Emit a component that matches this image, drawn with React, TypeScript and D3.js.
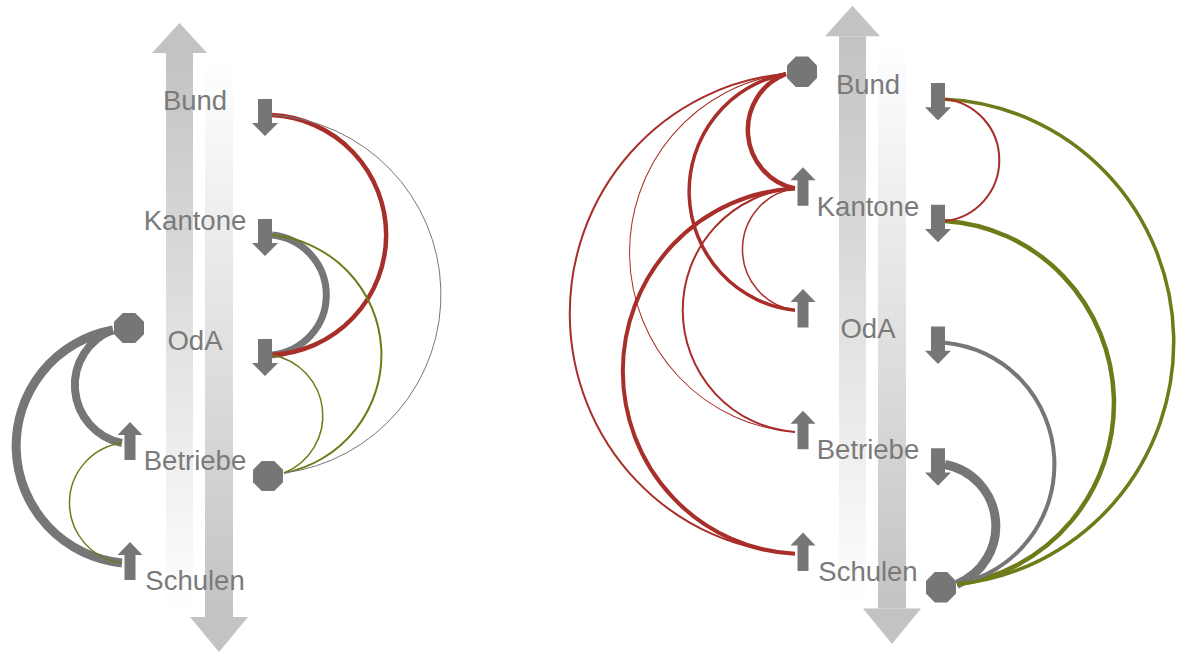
import React from 'react';
import * as d3 from 'd3';

// ---- data ----
const actors = ['Bund', 'Kantone', 'OdA', 'Betriebe', 'Schulen'];
const kinds = ['rot', 'oliv', 'grau'];
const kindColors = ['#a82e2a', '#6f7a18', '#767676'];

const panelAHubs = { left: 'OdA', right: 'Betriebe' };
const panelALinks = [
  { side: 'right', source: 'Bund', target: 'OdA', kind: 'rot', value: 4.5 },
  { side: 'right', source: 'Bund', target: 'Betriebe', kind: 'grau', value: 1 },
  { side: 'right', source: 'Kantone', target: 'OdA', kind: 'grau', value: 7 },
  { side: 'right', source: 'Kantone', target: 'Betriebe', kind: 'oliv', value: 2 },
  { side: 'right', source: 'OdA', target: 'Betriebe', kind: 'oliv', value: 1.5 },
  { side: 'left', source: 'OdA', target: 'Betriebe', kind: 'grau', value: 8 },
  { side: 'left', source: 'OdA', target: 'Schulen', kind: 'grau', value: 9 },
  { side: 'left', source: 'Betriebe', target: 'Schulen', kind: 'oliv', value: 1.5 },
];

const panelBHubs = { left: 'Bund', right: 'Schulen' };
const panelBLinks = [
  { side: 'right', source: 'Bund', target: 'Kantone', kind: 'rot', value: 2 },
  { side: 'right', source: 'Bund', target: 'Schulen', kind: 'oliv', value: 3.5 },
  { side: 'right', source: 'Kantone', target: 'Schulen', kind: 'oliv', value: 4.5 },
  { side: 'right', source: 'OdA', target: 'Schulen', kind: 'grau', value: 4 },
  { side: 'right', source: 'Betriebe', target: 'Schulen', kind: 'grau', value: 9 },
  { side: 'left', source: 'Bund', target: 'Kantone', kind: 'rot', value: 4.5 },
  { side: 'left', source: 'Bund', target: 'OdA', kind: 'rot', value: 3.5 },
  { side: 'left', source: 'Bund', target: 'Betriebe', kind: 'rot', value: 1 },
  { side: 'left', source: 'Bund', target: 'Schulen', kind: 'rot', value: 2 },
  { side: 'left', source: 'Kantone', target: 'OdA', kind: 'rot', value: 1.5 },
  { side: 'left', source: 'Kantone', target: 'Betriebe', kind: 'rot', value: 2 },
  { side: 'left', source: 'Kantone', target: 'Schulen', kind: 'rot', value: 4 },
];

// ---- scales / layout ----
const yScale = d3.scalePoint<string>().domain(actors).range([110, 590]);
const widthScale = d3.scaleLinear().domain([0, 10]).range([0, 10]);
const colorScale = d3.scaleOrdinal<string, string>().domain(kinds).range(kindColors);

const LABEL_X = 195;
const LEFT_X = 128;
const RIGHT_X = 265;
const MARK_GREY = '#767676';
const BIG_GREY = '#c3c3c3';

function octagon(cx: number, cy: number, a: number) {
  const R = a / Math.cos(Math.PI / 8);
  const pts: string[] = [];
  for (let k = 0; k < 8; k++) {
    const ang = Math.PI / 8 + (k * Math.PI) / 4;
    pts.push(`${cx + R * Math.cos(ang)},${cy + R * Math.sin(ang)}`);
  }
  return pts.join(' ');
}

function downArrow(cx: number, b: number) {
  const top = b - 11, hb = b + 13, tip = b + 26, sw = 7, hw = 13;
  return `${cx - sw},${top} ${cx + sw},${top} ${cx + sw},${hb} ${cx + hw},${hb} ${cx},${tip} ${cx - hw},${hb} ${cx - sw},${hb}`;
}

function upArrow(cx: number, b: number) {
  const tip = b - 48, hb = b - 35, bot = b - 10, sw = 5.5, hw = 12.5;
  return `${cx},${tip} ${cx + hw},${hb} ${cx + sw},${hb} ${cx + sw},${bot} ${cx - sw},${bot} ${cx - sw},${hb} ${cx - hw},${hb}`;
}

function endpoint(side: string, actor: string, hub: string) {
  const b = yScale(actor)!;
  if (side === 'right') {
    return actor === hub ? { x: RIGHT_X + 19, y: b + 3 } : { x: RIGHT_X + 7, y: b + 5 };
  }
  return actor === hub ? { x: LEFT_X - 15, y: b - 20 } : { x: LEFT_X - 6, y: b - 27 };
}

function arcPath(side: string, p1: { x: number; y: number }, p2: { x: number; y: number }) {
  const cx = side === 'right' ? RIGHT_X + 1 : LEFT_X + 2;
  const cy = (p1.y + p2.y) / 2;
  const r = Math.max(Math.hypot(p1.x - cx, p1.y - cy), Math.hypot(p2.x - cx, p2.y - cy));
  const sweep = side === 'right' ? 1 : 0;
  return `M${p1.x},${p1.y} A${r},${r} 0 0 ${sweep} ${p2.x},${p2.y}`;
}

type Link = { side: string; source: string; target: string; kind: string; value: number };

function Panel({ links, hubs, transform, id }: { links: Link[]; hubs: { left: string; right: string }; transform: string; id: string }) {
  const sides = ['left', 'right'];
  const markers: { side: string; actor: string }[] = [];
  sides.forEach((s) => {
    actors.forEach((a) => {
      if (links.some((l) => l.side === s && (l.source === a || l.target === a))) markers.push({ side: s, actor: a });
    });
  });
  const sorted = [...links].sort((a, b) => b.value - a.value);
  return (
    <g transform={transform}>
      <defs>
        <linearGradient id={`gUp${id}`} x1="0" y1="0" x2="0" y2="1">
          <stop offset="0" stopColor={BIG_GREY} />
          <stop offset="1" stopColor="#ffffff" />
        </linearGradient>
        <linearGradient id={`gDown${id}`} x1="0" y1="0" x2="0" y2="1">
          <stop offset="0" stopColor="#ffffff" />
          <stop offset="1" stopColor={BIG_GREY} />
        </linearGradient>
      </defs>
      {/* big up arrow */}
      <rect x={166} y={53} width={27} height={564} fill={`url(#gUp${id})`} />
      <polygon points={`179.5,23 207,53 152,53`} fill={BIG_GREY} />
      {/* big down arrow */}
      <rect x={205} y={57} width={28} height={560} fill={`url(#gDown${id})`} />
      <polygon points={`190,617 248,617 219,652`} fill={BIG_GREY} />
      {actors.map((a) => (
        <text key={a} x={LABEL_X} y={yScale(a)} textAnchor="middle" fontFamily="'Liberation Sans', Arial, sans-serif" fontSize={27.5} fill="#7a7a7a">
          {a}
        </text>
      ))}
      {sorted.map((l, i) => {
        const hub = l.side === 'left' ? hubs.left : hubs.right;
        const p1 = endpoint(l.side, l.source, hub);
        const p2 = endpoint(l.side, l.target, hub);
        const [a, b] = p1.y <= p2.y ? [p1, p2] : [p2, p1];
        return (
          <path key={i} d={arcPath(l.side, a, b)} fill="none" stroke={colorScale(l.kind)} strokeWidth={widthScale(l.value)} />
        );
      })}
      {markers.map((m, i) => {
        const b = yScale(m.actor)!;
        const hub = m.side === 'left' ? hubs.left : hubs.right;
        if (m.actor === hub) {
          const cx = m.side === 'left' ? LEFT_X + 1 : RIGHT_X + 3;
          const cy = m.side === 'left' ? b - 22 : b + 6;
          return <polygon key={i} points={octagon(cx, cy, 15)} fill={MARK_GREY} />;
        }
        return (
          <polygon key={i} points={m.side === 'left' ? upArrow(LEFT_X + 2, b) : downArrow(RIGHT_X, b)} fill={MARK_GREY} />
        );
      })}
    </g>
  );
}

export default function App() {
  return (
    <svg width={1184} height={653} style={{ position: 'absolute', left: 0, top: 0, display: 'block' }}>
      <rect width={1184} height={653} fill="#ffffff" />
      <Panel id="A" links={panelALinks} hubs={panelAHubs} transform="translate(0,0)" />
      <Panel id="B" links={panelBLinks} hubs={panelBHubs} transform="translate(673,-17.5) scale(1,1.0146)" />
    </svg>
  );
}
